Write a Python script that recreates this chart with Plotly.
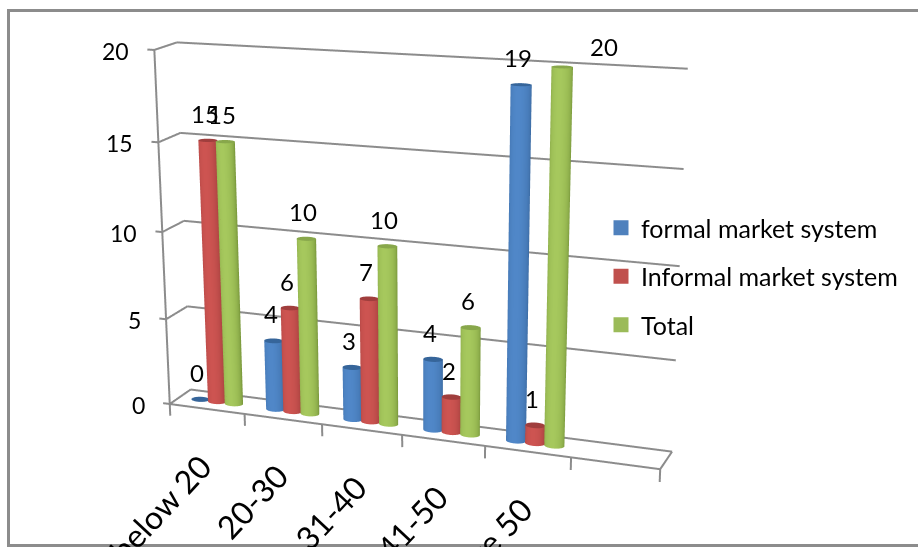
import numpy as np
import plotly.graph_objects as go

# Chart data
categories = ["below 20", "20-30", "31-40", "41-50", "above 50"]
formal = [0, 4, 3, 4, 19]
informal = [15, 6, 7, 2, 1]
total = [15, 10, 10, 6, 20]
value_ticks = [0, 5, 10, 15, 20]

series = [
    dict(name="formal market system", values=formal, swatch="#4F81BD",
         centre=(80, 135, 200), edge=(60, 108, 164), cap=(54, 101, 154)),
    dict(name="Informal market system", values=informal, swatch="#C0504D",
         centre=(205, 84, 81), edge=(160, 62, 60), cap=(160, 62, 61)),
    dict(name="Total", values=total, swatch="#9BBB59",
         centre=(166, 200, 93), edge=(124, 155, 62), cap=(136, 167, 75)),
]

# Box and column layout, in category units along x and 0-1 along the depth axis
N_SLOTS = 6
GROUP_STEP = 0.225
RADIUS_X = 0.115
RADIUS_Y = 0.16
MID_DEPTH = 0.5
GRID = "#8c8c8c"
FONT = "Lato"


def lean(x, depth, value):
    """Place a box coordinate in the scene: the box is slightly skewed for its oblique look."""
    x, depth, value = np.asarray(x, float), np.asarray(depth, float), np.asarray(value, float)
    sx = x + 0.15799 * depth - 0.01261 * value
    sy = depth - 0.12362 * x + 0.46510 * value
    return sx, sy, value


def mix(a, b, t):
    return "rgb(%d,%d,%d)" % tuple(round(a[i] + (b[i] - a[i]) * t) for i in range(3))


def column_mesh(spec, offset):
    """Triangles and vertex colours for one series of cylinders."""
    vx, vy, vz, colors, ii, jj, kk = [], [], [], [], [], [], []
    n = 40
    theta = np.linspace(0, 2 * np.pi, n, endpoint=False)
    for slot, value in enumerate(spec["values"]):
        cx = slot + 0.5 + offset
        px = cx + RADIUS_X * np.cos(theta)
        py = MID_DEPTH + RADIUS_Y * np.sin(theta)
        start = len(vx)
        if value > 0:
            for level in (0, value):
                sx, sy, sz = lean(px, py, np.full(n, level))
                vx += sx.tolist(); vy += sy.tolist(); vz += sz.tolist()
                colors += [mix(spec["edge"], spec["centre"], max(0.0, -np.sin(t)) ** 0.8) for t in theta]
            for a in range(n):
                b = (a + 1) % n
                ii += [start + a, start + b]
                jj += [start + b, start + n + b]
                kk += [start + n + a, start + n + a]
        # Top cap, coloured on its own
        cap = len(vx)
        sx, sy, sz = lean(np.r_[cx, px], np.r_[MID_DEPTH, py], np.full(n + 1, value))
        vx += sx.tolist(); vy += sy.tolist(); vz += sz.tolist()
        colors += [mix(spec["cap"], spec["cap"], 0)] * (n + 1)
        for a in range(n):
            b = (a + 1) % n
            ii.append(cap); jj.append(cap + 1 + a); kk.append(cap + 1 + b)
    return vx, vy, vz, colors, ii, jj, kk


def box_lines():
    """Floor outline, wall gridlines and tick marks as one broken polyline."""
    segs = [((0, 0, 0), (N_SLOTS, 0, 0)), ((N_SLOTS, 0, 0), (N_SLOTS, 1, 0)),
            ((N_SLOTS, 1, 0), (0, 1, 0)), ((0, 1, 0), (0, 0, 0)), ((0, 0, 0), (0, 0, 20))]
    for v in value_ticks:
        segs.append(((0, 0, v), (-0.09, 0, v)))
        if v:
            segs.append(((0, 0, v), (0, 1, v)))
            segs.append(((0, 1, v), (N_SLOTS, 1, v)))
    for i in range(N_SLOTS + 1):
        segs.append(((i, 0, 0), (i, 0, -0.7)))
    xs, ys, zs = [], [], []
    for p, q in segs:
        sx, sy, sz = lean([p[0], q[0]], [p[1], q[1]], [p[2], q[2]])
        xs += sx.tolist() + [None]; ys += sy.tolist() + [None]; zs += sz.tolist() + [None]
    return xs, ys, zs


fig = go.Figure()
lx, ly, lz = box_lines()
fig.add_trace(go.Scatter3d(x=lx, y=ly, z=lz, mode="lines", line=dict(color=GRID, width=4),
                           showlegend=False, hoverinfo="skip"))

annots = []
for s_i, spec in enumerate(series):
    offset = (s_i - 1) * GROUP_STEP
    vx, vy, vz, colors, ii, jj, kk = column_mesh(spec, offset)
    fig.add_trace(go.Mesh3d(x=vx, y=vy, z=vz, i=ii, j=jj, k=kk, vertexcolor=colors, name=spec["name"],
                            lighting=dict(ambient=1, diffuse=0, specular=0, roughness=1, fresnel=0),
                            showscale=False, hoverinfo="skip", showlegend=False))
    # Legend entry for the series
    fig.add_trace(go.Scatter3d(x=[None], y=[None], z=[None], mode="markers", name=spec["name"],
                               legendgroup=spec["name"], hoverinfo="skip",
                               marker=dict(symbol="square", size=15, color=spec["swatch"])))
    for slot, value in enumerate(spec["values"]):
        sx, sy, sz = lean(slot + 0.5 + offset, MID_DEPTH, value)
        dx, dy = (42, 20) if value == 20 else (-3, 27)
        annots.append(dict(x=float(sx), y=float(sy), z=float(sz), text=str(value), showarrow=False,
                           xshift=dx, yshift=dy, xanchor="center", yanchor="middle",
                           font=dict(family=FONT, size=24, color="black")))

# Value axis labels
for v in value_ticks:
    sx, sy, sz = lean(0, 0, v)
    annots.append(dict(x=float(sx), y=float(sy), z=float(sz), text=str(v), showarrow=False,
                       xshift=-23, yshift=-1, xanchor="right", yanchor="middle",
                       font=dict(family=FONT, size=23, color="black")))

# Slanted category labels, running off the bottom of the frame
for slot, name in enumerate(categories):
    sx, sy, sz = lean(slot + 0.5, 0, 0)
    annots.append(dict(x=float(sx), y=float(sy), z=float(sz), text=name, showarrow=False, textangle=-47,
                       xshift=15, yshift=-35, xanchor="right", yanchor="top",
                       font=dict(family=FONT, size=32, color="black")))

fig.update_layout(
    width=918, height=547, margin=dict(l=0, r=0, t=0, b=0), paper_bgcolor="white",
    showlegend=True,
    legend=dict(x=601 / 918, y=1 - 205 / 547, xanchor="left", yanchor="top", bgcolor="rgba(0,0,0,0)",
                tracegroupgap=13, font=dict(family=FONT, size=25, color="black")),
    shapes=[dict(type="rect", xref="paper", yref="paper", x0=8.5 / 918, x1=1.02, y0=1 - 545.5 / 547,
                 y1=1 - 10.5 / 547, line=dict(color="#8c8c8c", width=3))],
    scene=dict(
        domain=dict(x=[0, 1], y=[0, 1]),
        xaxis=dict(range=[-3, 9], visible=False),
        yaxis=dict(range=[-9.5, 10.5], visible=False),
        zaxis=dict(range=[-1.5, 20.5], visible=False),
        aspectmode="manual",
        aspectratio=dict(x=1, y=0.42728, z=0.32961),
        camera=dict(eye=dict(x=0.11856, y=-0.40807, z=0.40175),
                    center=dict(x=0.04755, y=0.06718, z=0.00071),
                    up=dict(x=0.00783, y=0.05112, z=1),
                    projection=dict(type="perspective")),
        annotations=annots,
        hovermode=False,
    ),
)
fig.write_html("out.html", config=dict(displayModeBar=False))
